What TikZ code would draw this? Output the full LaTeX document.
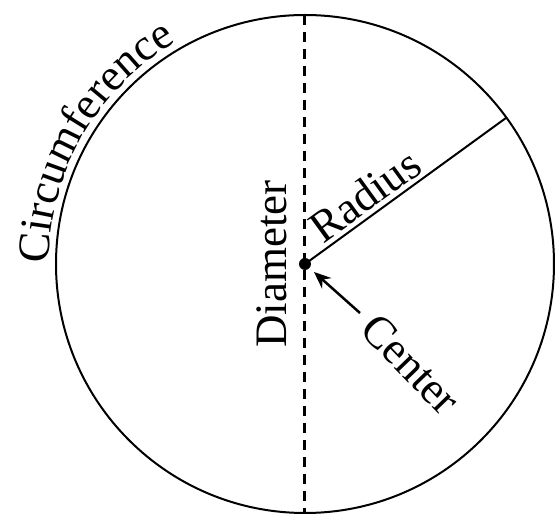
\documentclass[tikz,border=0pt]{standalone}
\usepackage{fontspec}
\setmainfont{Liberation Serif}
\usetikzlibrary{arrows.meta,positioning,calc,decorations.text}
\newcommand{\lblfont}{\fontsize{45}{45}\selectfont}

\begin{document}
\begin{tikzpicture}[
    x=1pt, y=1pt,
    rim/.style={line width=2pt},
    diam/.style={line width=3pt, dash pattern=on 10pt off 7pt},
    rad/.style={line width=2pt},
    lbl/.style={font=\lblfont, inner sep=0pt},
    ptr/.style={line width=2.5pt, -{Stealth[length=17pt, width=14pt]}, shorten >=12pt}
]
\useasboundingbox (-305,-255) rectangle (250,264);
\draw[rim] (0,0) circle (249);
\node[circle, fill, inner sep=0pt, minimum size=12pt] (ctr) at (0,0) {};
\coordinate (top) at (90:249);
\coordinate (bot) at (-90:249);
\coordinate (rim) at (36:249);
\draw[diam] (top) -- (bot);
\draw[rad] (ctr.center) -- (rim);

\node[lbl, rotate=90] (dia) at (-33,0) {Diameter};
\node[lbl, rotate=36, anchor=south] (radlbl) at (69,56) {Radius};
\node[lbl, rotate=-46] (ctrlbl) at (106,-100) {Center};
\coordinate (tail) at (55,-49);
\draw[ptr] (tail) -- (ctr.center);

% text along the rim
\path[decorate, decoration={text along path, text align=center,
    text={|\lblfont|Circumference}}]
    (187:256) arc[start angle=187, end angle=113, radius=256];
\end{tikzpicture}
\end{document}
